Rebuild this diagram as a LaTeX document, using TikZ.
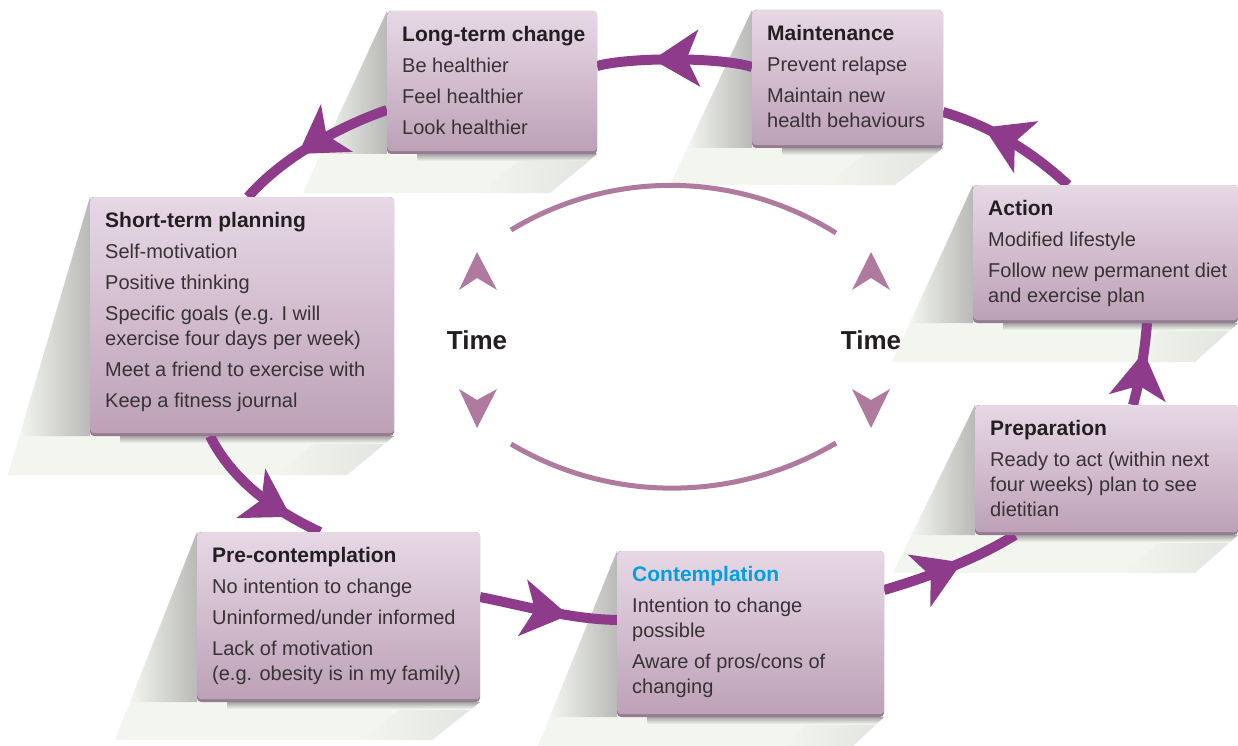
\documentclass[tikz,border=0pt]{standalone}
\usepackage{fontspec}
\setmainfont{Liberation Sans}
\usetikzlibrary{calc,arrows.meta,decorations.markings}
\pgfdeclarelayer{shadowlayer}
\pgfdeclarelayer{linelayer}
\pgfsetlayers{shadowlayer,linelayer,main}
\definecolor{cyc}{RGB}{142,59,139}
\definecolor{tmauve}{RGB}{176,122,158}
\definecolor{boxtop}{RGB}{231,216,230}
\definecolor{boxbot}{RGB}{189,161,183}
\definecolor{boxband}{RGB}{150,124,145}
\definecolor{shlight}{RGB}{243,245,239}
\definecolor{shdark}{RGB}{185,186,183}
\definecolor{shdarker}{RGB}{165,165,163}
\definecolor{ttl}{RGB}{35,31,32}
\definecolor{bodytxt}{RGB}{55,50,52}
\definecolor{cyanttl}{RGB}{0,160,223}
\newcommand\ttlfmt[2][ttl]{{\fontsize{21}{25}\selectfont\bfseries\color{#1}#2}}
\tikzset{
  stagebox/.style={rectangle, rounded corners=4pt, top color=boxtop, bottom color=boxbot,
    draw=none, inner sep=0pt, anchor=north west},
  stagetext/.style={anchor=north west, inner sep=0pt, align=left, text=bodytxt,
    font=\fontsize{20}{25}\selectfont},
  cycarrow/.style={draw=cyc, line width=10pt, postaction={decorate},
    decoration={markings, mark=at position #1 with {\arrow[cyc]{Stealth[length=46pt,width=56pt,inset=12pt]}}}},
  timearc/.style={draw=tmauve, line width=5pt},
  timehead/.style={fill=tmauve},
  timetext/.style={font=\fontsize{26}{30}\selectfont\bfseries, text=ttl, inner sep=0pt}
}
\newcommand\mkstage[9]{%
  \pgfmathsetmacro\stgxe{#2-(#2-#6)/(#7-#3)*(#5-#3)}%
  \begin{pgfonlayer}{shadowlayer}
    \begin{scope}
      \clip (#2,#3) -- (#6,#7) -- (#8,#7) -- (#4,#5) -- cycle;
      \fill[shlight] (#6,#3) rectangle (#4,#7);
      \shade[left color=shlight, right color=shdark] (#2,#3) -- (#2,#5) -- (\stgxe,#5) -- cycle;
      \shade[left color=shlight, right color=shlight!70!shdark] (#4-70,#5) -- (#4,#5) -- (#8,#7) -- (#8-70,#7) -- cycle;
      \shade[top color=shdarker, bottom color=shlight] (#2+30,#5) rectangle (#4,#5+7);
    \end{scope}
  \end{pgfonlayer}
  \fill[boxband, rounded corners=4pt] (#2,#3) rectangle (#4,#5);
  \pgfmathsetlengthmacro\stgbw{#4-#2}%
  \pgfmathsetlengthmacro\stgbh{#5-#3-3}%
  \node[stagebox, minimum width=\stgbw, minimum height=\stgbh] (#1) at (#2,#3) {};
  \node[stagetext] (#1t) at ($(#1.north west)+(15,15.5)$) {#9};
}
\begin{document}
\begin{tikzpicture}[x=1pt,y=-1pt]
\useasboundingbox (0,0) rectangle (1238,746);
\begin{pgfonlayer}{shadowlayer}
\fill[white] (0,0) rectangle (1238,746);
\end{pgfonlayer}

\mkstage{lt}{387}{11}{597}{154}{303}{193}{550}{\ttlfmt{Long-term change}\\[6pt]Be healthier\\[6pt]Feel healthier\\[6pt]Look healthier}
\mkstage{maint}{752}{10}{943}{148}{670}{185}{895}{\ttlfmt{Maintenance}\\[6pt]Prevent relapse\\[6pt]Maintain new\\health behaviours}
\mkstage{act}{973}{185}{1238}{323}{892}{362}{1195}{\ttlfmt{Action}\\[6pt]Modified lifestyle\\[6pt]Follow new permanent diet\\and exercise plan}
\mkstage{prep}{975}{405}{1238}{535}{893}{573}{1195}{\ttlfmt{Preparation}\\[6pt]Ready to act (within next\\four weeks) plan to see\\dietitian}
\mkstage{con}{617}{551}{884}{717}{538}{746}{853}{\ttlfmt[cyanttl]{Contemplation}\\[6pt]Intention to change\\possible\\[6pt]Aware of pros/cons of\\changing}
\mkstage{pre}{197}{532}{480}{702}{115}{740}{432}{\ttlfmt{Pre-contemplation}\\[6pt]No intention to change\\[6pt]Uninformed/under informed\\[6pt]Lack of motivation\\(e.g. obesity is in my family)}
\mkstage{st}{90}{197}{394}{436}{8}{475}{347}{\ttlfmt{Short-term planning}\\[6pt]Self-motivation\\[6pt]Positive thinking\\[6pt]Specific goals (e.g. I will\\exercise four days per week)\\[6pt]Meet a friend to exercise with\\[6pt]Keep a fitness journal}

% cycle connectors
\begin{pgfonlayer}{linelayer}
\draw[cycarrow=0.64] ($(maint.north west)+(0,57)$) .. controls (720,57) and (630,57) .. ($(lt.north west)+(210,55)$);
\draw[cycarrow=0.6] ($(lt.north west)+(0,99)$) .. controls (335,128) and (280,160) .. ($(st.north west)+(158,0)$);
\draw[cycarrow=0.78] ($(st.north west)+(120,239)$) .. controls (228,472) and (262,505) .. ($(pre.north west)+(123,0)$);
\draw[cycarrow=0.65] ($(pre.north west)+(283,65)$) .. controls (530,607) and (570,619) .. ($(con.north west)+(0,69)$);
\draw[cycarrow=0.58] ($(con.north west)+(267,39)$) .. controls (925,578) and (975,560) .. ($(prep.north west)+(40,130)$);
\draw[cycarrow=0.65] ($(prep.north west)+(158,0)$) .. controls (1140,380) and (1145,350) .. ($(act.north west)+(174,138)$);
\draw[cycarrow=0.7] ($(act.north west)+(95,0)$) .. controls (1030,150) and (990,126) .. ($(maint.north west)+(191,102)$);
\end{pgfonlayer}

% inner time arcs
\draw[timearc] (511,230) .. controls (610,170) and (735,170) .. (836,233);
\draw[timearc] (511,444) .. controls (610,503) and (735,503) .. (836,443);
\fill[timehead] (477,252) -- (497,290) -- (477,278) -- (459,290) -- cycle;
\fill[timehead] (477,428) -- (497,389) -- (477,400) -- (459,389) -- cycle;
\fill[timehead] (871,252) -- (890,290) -- (871,278) -- (852,290) -- cycle;
\fill[timehead] (871,428) -- (890,389) -- (871,400) -- (852,389) -- cycle;
\node[timetext] (time1) at (477,340) {Time};
\node[timetext] (time2) at (871,340) {Time};
\end{tikzpicture}
\end{document}
